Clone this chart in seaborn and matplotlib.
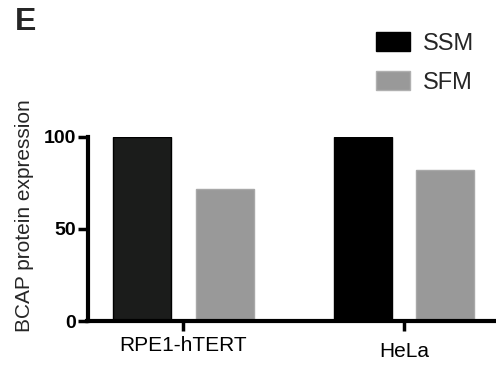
import matplotlib
matplotlib.use('Agg')
import matplotlib.pyplot as plt
import seaborn as sns
import pandas as pd
from matplotlib.transforms import ScaledTranslation

# values
cell_lines = ['RPE1-hTERT', 'HeLa']
conditions = ['SSM', 'SFM']
ssm_values = [100, 100]
sfm_values = [72, 82]
y_ticks = [0, 50, 100]

df = pd.DataFrame({
    'cell_line': cell_lines * 2,
    'condition': [conditions[0]] * len(cell_lines) + [conditions[1]] * len(cell_lines),
    'expression': ssm_values + sfm_values,
})

sns.set_style('ticks')
plt.rcParams['font.family'] = ['Liberation Sans', 'DejaVu Sans']

W, H = 496, 374
fig = plt.figure(figsize=(W / 100, H / 100), dpi=100)
ax = fig.add_axes([87.5 / W, (H - 321) / H, (W - 87.5) / W, (321 - 137) / H])

colors = {'SSM': '#000000', 'SFM': '#999999'}
sns.barplot(data=df, x='cell_line', y='expression', hue='condition',
            order=cell_lines, hue_order=conditions, palette=colors,
            width=0.75, gap=0.3, errorbar=None, saturation=1, ax=ax)

# bar edges / slight shade difference on first bar
for bar in ax.containers[0]:
    bar.set_edgecolor('#000000')
    bar.set_linewidth(1)
ax.containers[0][0].set_facecolor('#1b1c1b')
for bar in ax.containers[1]:
    bar.set_edgecolor('#a8a8a8')
    bar.set_linewidth(1)

ax.set_xlim(-0.435, 1.417)
ax.set_ylim(0, 100)
ax.set_yticks(y_ticks)
ax.set_yticklabels([str(t) for t in y_ticks], fontsize=14, fontweight='bold')
ax.set_xticks(range(len(cell_lines)))
ax.set_xticklabels(cell_lines, fontsize=15)
ax.set_xlabel('')
ax.set_ylabel('BCAP protein expression', fontsize=15)
ax.yaxis.set_label_coords(-0.131, 0.571)

sns.despine(ax=ax)
for side in ['left', 'bottom']:
    ax.spines[side].set_linewidth(3)
    ax.spines[side].set_color('black')
ax.tick_params(axis='y', length=7, width=2.5, pad=1, colors='black')
ax.tick_params(axis='x', length=7, width=2.5, pad=4, colors='black')

# HeLa label sits a bit lower in the original
lbl = ax.get_xticklabels()[1]
lbl.set_transform(lbl.get_transform() + ScaledTranslation(0, -6 / 100, fig.dpi_scale_trans))

handles, labels = ax.get_legend_handles_labels()
leg = ax.legend(handles, labels, frameon=False, loc='upper left',
                bbox_to_anchor=(376 / W, 1 - 32 / H), bbox_transform=fig.transFigure,
                borderpad=0, borderaxespad=0, handlelength=1.45, handleheight=0.85,
                handletextpad=0.55, labelspacing=0.7, fontsize=17)
for h, c, e in zip(leg.legend_handles, ['#000000', '#999999'], ['#000000', '#b0b0b0']):
    h.set_facecolor(c)
    h.set_edgecolor(e)

fig.text(15 / W, 1 - 30 / H, 'E', fontsize=23, fontweight='bold', va='baseline', ha='left')

fig.savefig('out.png', dpi=100)
